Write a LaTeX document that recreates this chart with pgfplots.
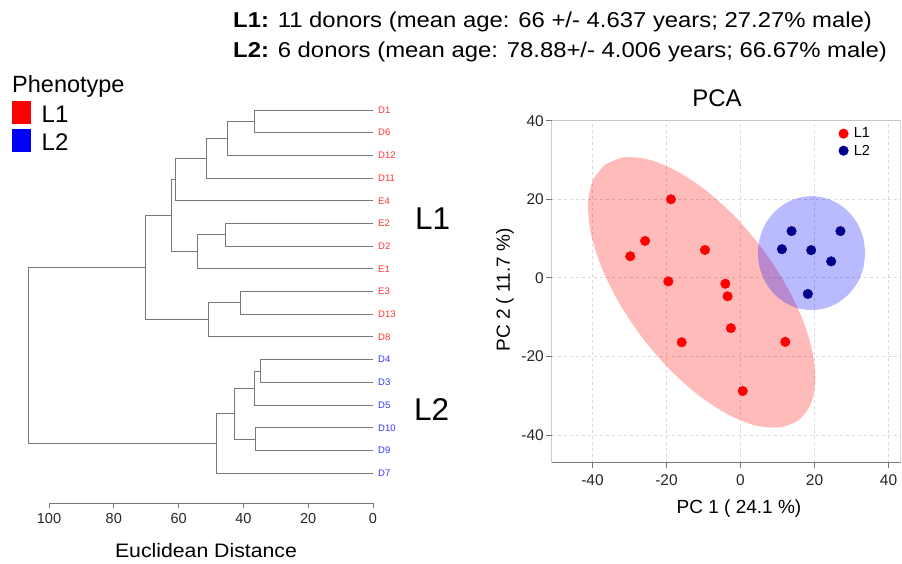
\documentclass[border=0pt]{standalone}
\usepackage{fontspec}
\setmainfont{Liberation Sans}
\newfontfamily\widefont[FakeStretch=1.11]{Liberation Sans}
\newfontfamily\widefontb[FakeStretch=1.09]{Liberation Sans}
\usepackage{pgfplots}
\pgfplotsset{compat=1.18}
\definecolor{lred}{HTML}{FF3333}
\definecolor{lblue}{HTML}{3333FF}
\definecolor{navy}{RGB}{0,0,139}
\definecolor{dgray}{HTML}{777777}
\newcommand\fs[1]{\fontsize{#1pt}{#1pt}\selectfont}
\begin{document}
\begin{tikzpicture}
\useasboundingbox (0,0) rectangle (902pt,-563pt);
% header
\node[anchor=base west, inner sep=0] at (233pt,-27.7pt) {\widefont\fs{21.5}\textbf{L1:} 11 donors (mean age: 66 +/- 4.637 years; 27.27\% male)};
\node[anchor=base west, inner sep=0] at (233pt,-57.5pt) {\widefont\fs{21.5}\textbf{L2:} 6 donors (mean age: 78.88+/- 4.006 years; 66.67\% male)};
% phenotype legend
\node[anchor=base west, inner sep=0] at (12pt,-92pt) {\fs{23.5}Phenotype};
\fill[red] (12pt,-101pt) rectangle (31pt,-124pt);
\fill[blue] (12pt,-129pt) rectangle (31pt,-152pt);
\node[anchor=base west, inner sep=0] at (41.5pt,-122.3pt) {\fs{24}L1};
\node[anchor=base west, inner sep=0] at (41.5pt,-150.5pt) {\fs{24}L2};
% big cluster labels
\node[anchor=base west, inner sep=0] at (415pt,-229.3pt) {\fs{31.5}L1};
\node[anchor=base west, inner sep=0] at (414pt,-420.7pt) {\fs{31.5}L2};
% x label of dendrogram
\node[anchor=base, inner sep=0] at (206pt,-557.7pt) {\widefontb\fs{19.5}Euclidean Distance};

% ---------------- dendrogram ----------------
\begin{axis}[at={(16.6pt,-87.3pt)}, anchor=north west, scale only axis,
  width=356.4pt, height=415.6pt, xmin=-110, xmax=0, ymin=-18.31, ymax=0,
  hide axis, clip=false]
\tikzset{dl/.style={dgray, line width=1pt, mark=none}}
\addplot[dl] coordinates {(0,-1) (-36.7,-1) (-36.7,-2) (0,-2)};
\addplot[dl] coordinates {(-36.7,-1.5) (-44.8,-1.5) (-44.8,-3) (0,-3)};
\addplot[dl] coordinates {(-44.8,-2.25) (-51.3,-2.25) (-51.3,-4) (0,-4)};
\addplot[dl] coordinates {(-51.3,-3.125) (-60.9,-3.125) (-60.9,-5) (0,-5)};
\addplot[dl] coordinates {(0,-6) (-45.4,-6) (-45.4,-7) (0,-7)};
\addplot[dl] coordinates {(-45.4,-6.5) (-54.2,-6.5) (-54.2,-8) (0,-8)};
\addplot[dl] coordinates {(-60.9,-4.0625) (-62.3,-4.0625) (-62.3,-7.25) (-54.2,-7.25)};
\addplot[dl] coordinates {(0,-9) (-40.8,-9) (-40.8,-10) (0,-10)};
\addplot[dl] coordinates {(-40.8,-9.5) (-50.8,-9.5) (-50.8,-11) (0,-11)};
\addplot[dl] coordinates {(-62.3,-5.65625) (-70.2,-5.65625) (-70.2,-10.25) (-50.8,-10.25)};
\addplot[dl] coordinates {(0,-12) (-34.7,-12) (-34.7,-13) (0,-13)};
\addplot[dl] coordinates {(-34.7,-12.5) (-36.5,-12.5) (-36.5,-14) (0,-14)};
\addplot[dl] coordinates {(0,-15) (-36.4,-15) (-36.4,-16) (0,-16)};
\addplot[dl] coordinates {(-36.5,-13.25) (-42.9,-13.25) (-42.9,-15.5) (-36.4,-15.5)};
\addplot[dl] coordinates {(-42.9,-14.375) (-48.2,-14.375) (-48.2,-17) (0,-17)};
\addplot[dl] coordinates {(-70.2,-7.953) (-106.3,-7.953) (-106.3,-15.6875) (-48.2,-15.6875)};
\tikzset{leaf/.style={anchor=west, inner sep=0, xshift=5pt, font=\fs{9.5}}}
\node[leaf, text=lred] at (axis cs:0,-1) {D1};
\node[leaf, text=lred] at (axis cs:0,-2) {D6};
\node[leaf, text=lred] at (axis cs:0,-3) {D12};
\node[leaf, text=lred] at (axis cs:0,-4) {D11};
\node[leaf, text=lred] at (axis cs:0,-5) {E4};
\node[leaf, text=lred] at (axis cs:0,-6) {E2};
\node[leaf, text=lred] at (axis cs:0,-7) {D2};
\node[leaf, text=lred] at (axis cs:0,-8) {E1};
\node[leaf, text=lred] at (axis cs:0,-9) {E3};
\node[leaf, text=lred] at (axis cs:0,-10) {D13};
\node[leaf, text=lred] at (axis cs:0,-11) {D8};
\node[leaf, text=lblue] at (axis cs:0,-12) {D4};
\node[leaf, text=lblue] at (axis cs:0,-13) {D3};
\node[leaf, text=lblue] at (axis cs:0,-14) {D5};
\node[leaf, text=lblue] at (axis cs:0,-15) {D10};
\node[leaf, text=lblue] at (axis cs:0,-16) {D9};
\node[leaf, text=lblue] at (axis cs:0,-17) {D7};
\end{axis}

% scale axis of the dendrogram
\begin{axis}[at={(49pt,-503pt)}, anchor=south west, scale only axis,
  width=324pt, height=20pt, xmin=-100, xmax=0, ymin=0, ymax=1,
  axis x line=bottom, axis y line=none,
  x axis line style={-, dgray, line width=1pt},
  xtick={-100,-80,-60,-40,-20,0}, xticklabels={100,80,60,40,20,0},
  tick align=outside, major tick length=5pt,
  xtick style={dgray, line width=1pt},
  xticklabel style={font=\fs{14.5}, text=black!85, yshift=-2pt}]
\addplot[draw=none] coordinates {(-50,0.5)};
\end{axis}

% ---------------- PCA ----------------
\node[anchor=base, inner sep=0] at (717pt,-106.7pt) {\fs{24}PCA};
\node[anchor=base, inner sep=0] at (739pt,-513pt) {\fs{19}PC 1 ( 24.1 \%)};
\node[anchor=center, inner sep=0, rotate=90] at (505pt,-290pt) {\fs{19}PC 2 ( 11.7 \%)};
\begin{axis}[at={(551.7pt,-462.7pt)}, anchor=south west, scale only axis,
  width=348.8pt, height=342pt,
  xmin=-51.03, xmax=43.24, ymin=-47.05, ymax=40,
  xtick={-40,-20,0,20,40}, ytick={-40,-20,0,20,40},
  axis line style={draw=none},
  tick pos=left, tick align=outside, major tick length=5.7pt,
  tick style={dgray, line width=1pt},
  grid=major, major grid style={gray!30, dash pattern=on 3pt off 3pt, line width=0.8pt},
  /pgf/number format/assume math mode=true,
  ticklabel style={font=\fs{15.5}, text=black!85},
  xticklabel style={yshift=-3pt},
  yticklabel style={inner sep=2pt},
  legend style={draw=none, fill=none, at={(axis cs:26.5,38.6)}, anchor=north west,
    font=\fs{14.5}, inner sep=0pt, row sep=2.5pt, nodes={inner sep=1.5pt},
    /tikz/every odd column/.append style={column sep=4pt}},
  legend cell align=left,
  legend image code/.code={\draw[mark repeat=2,mark phase=2,#1] plot coordinates {(0pt,0pt) (4pt,0pt) (8pt,0pt)};}
]
\addplot[fill=red, fill opacity=0.27, draw=none, smooth, forget plot] coordinates {
(-36.69,28.79) (-39.96,24.71) (-41.22,18.69) (-40.39,11.15) (-37.53,2.60) (-32.81,-6.39)
(-26.58,-15.19) (-19.25,-23.21) (-11.33,-29.90) (-3.35,-34.79) (4.14,-37.59) (10.64,-38.05)
(15.69,-36.19) (18.96,-32.11) (20.22,-26.09) (19.39,-18.55) (16.53,-10.00) (11.81,-1.01)
(5.58,7.79) (-1.75,15.81) (-9.67,22.50) (-17.65,27.39) (-25.14,30.19) (-31.64,30.65)
(-36.69,28.79)};
\addplot[fill=blue, fill opacity=0.27, draw=none, smooth, forget plot] coordinates {
(33.7,6.3) (33.21,10.05) (31.76,13.55) (29.45,16.55) (26.45,18.86) (22.95,20.31)
(19.2,20.8) (15.45,20.31) (11.95,18.86) (8.95,16.55) (6.64,13.55) (5.19,10.05)
(4.7,6.3) (5.19,2.55) (6.64,-0.95) (8.95,-3.95) (11.95,-6.26) (15.45,-7.71)
(19.2,-8.2) (22.95,-7.71) (26.45,-6.26) (29.45,-3.95) (31.76,-0.95) (33.21,2.55)
(33.7,6.3)};
\addplot[only marks, mark=*, mark size=4.8pt, color=red] coordinates {
(-18.8,20.0) (-25.8,9.4) (-29.8,5.5) (-9.6,7.1) (-19.5,-0.9) (-4.1,-1.5)
(-3.5,-4.7) (-2.6,-12.8) (-15.9,-16.4) (12.1,-16.3) (0.6,-28.8)};
\addlegendentry{L1}
\addplot[only marks, mark=*, mark size=4.8pt, color=navy] coordinates {
(13.8,11.9) (27.0,11.9) (11.2,7.3) (19.1,7.05) (24.5,4.2) (18.2,-4.1)};
\addlegendentry{L2}
\draw[gray!45, line width=0.8pt] (rel axis cs:0,1) -- (rel axis cs:1,1) -- (rel axis cs:1,0);
\draw[dgray, line width=1pt] (rel axis cs:0,1) -- (rel axis cs:0,0) -- (rel axis cs:1,0);
\end{axis}
\end{tikzpicture}
\end{document}
